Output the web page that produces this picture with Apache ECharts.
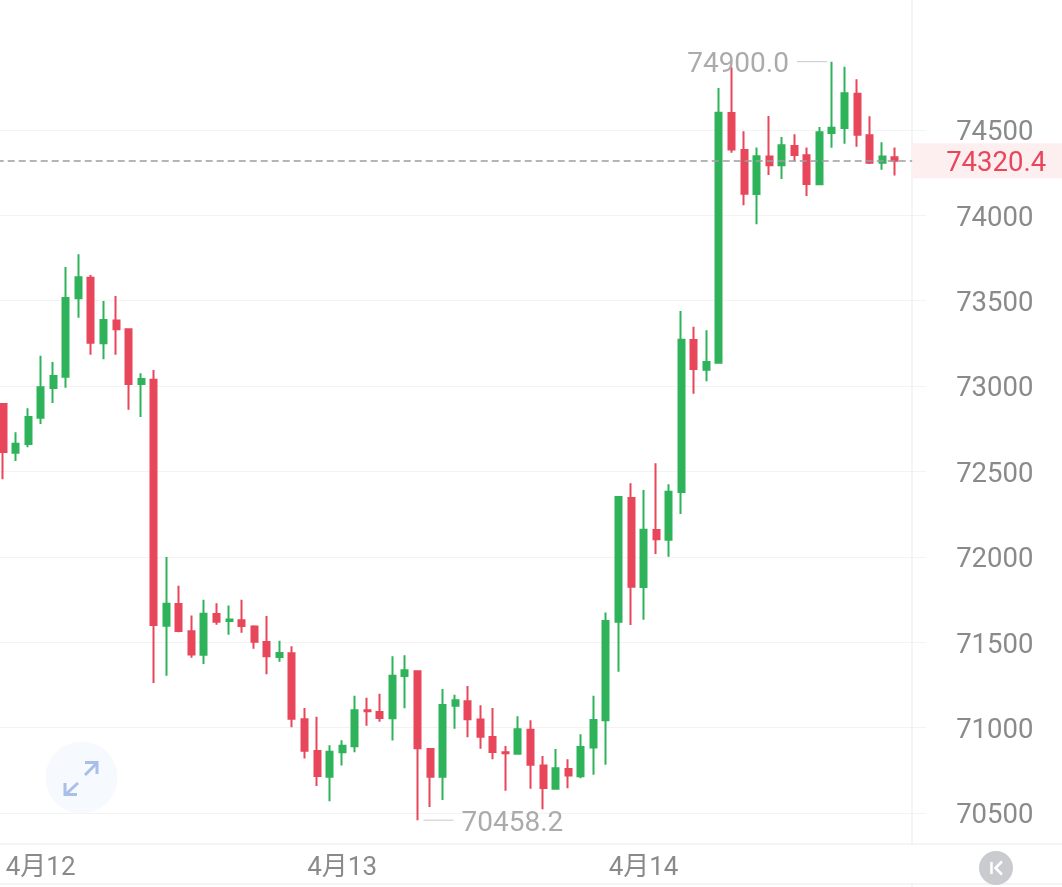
<!DOCTYPE html>
<html>
<head>
<meta charset="utf-8">
<style>
    html, body { margin: 0; padding: 0; background: #fff; }
    #chart { width: 1062px; height: 887px; }
</style>
</head>
<body>
<div id="chart"></div>
<script src="https://cdn.jsdelivr.net/npm/echarts@6/dist/echarts.min.js"></script>
<script>
    const opens = [72895, 72610, 72661, 72815, 72989, 73055, 73514, 73635, 73251, 73385, 73333, 73012, 73038, 71597, 71724, 71564, 71427, 71665, 71624, 71629, 71593, 71501, 71414, 71435, 71049, 70863, 70713, 70856, 70891, 71102, 71092, 71055, 71302, 71330, 70875, 70713, 71128, 71154, 71047, 70945, 70856, 70847, 70988, 70779, 70642, 70758, 70715, 70883, 71043, 71620, 72345, 71824, 72157, 72101, 72380, 73270, 73096, 73137, 74599, 74383, 74125, 74344, 74293, 74406, 74352, 74182, 74482, 74511, 74712, 74469, 74308, 74340];
    const closes = [72614, 72663, 72819, 72993, 73059, 73516, 73637, 73254, 73387, 73333, 73012, 73042, 71601, 71726, 71566, 71429, 71667, 71620, 71634, 71595, 71503, 71418, 71437, 71052, 70865, 70717, 70859, 70894, 71102, 71096, 71056, 71304, 71336, 70879, 70713, 71133, 71160, 71049, 70947, 70857, 70850, 70990, 70783, 70647, 70762, 70719, 70887, 71045, 71624, 72351, 71825, 72159, 72103, 72382, 73272, 73100, 73141, 74601, 74385, 74127, 74346, 74293, 74410, 74353, 74184, 74486, 74513, 74715, 74472, 74308, 74344, 74320.4];
    const lows = [72454, 72562, 72642, 72778, 72901, 72991, 73401, 73184, 73157, 73184, 72862, 72819, 71261, 71304, 71558, 71410, 71373, 71603, 71544, 71556, 71462, 71312, 71386, 71002, 70820, 70658, 70569, 70779, 70856, 71011, 71035, 70924, 71113, 70458.2, 70535, 70576, 70994, 70943, 70877, 70815, 70631, 70847, 70642, 70522, 70637, 70645, 70703, 70724, 70783, 71328, 71601, 71632, 72017, 72001, 72251, 72956, 73028, 73132, 74367, 74059, 73948, 74236, 74213, 74316, 74113, 74182, 74396, 74420, 74402, 74301, 74267, 74234];
    const highs = [72895, 72730, 72870, 73178, 73141, 73698, 73772, 73651, 73498, 73528, 73335, 73075, 73094, 71999, 71831, 71656, 71749, 71728, 71716, 71749, 71599, 71654, 71509, 71476, 71115, 71064, 70897, 70926, 71187, 71175, 71199, 71418, 71424, 71332, 70881, 71226, 71193, 71244, 71131, 71115, 70892, 71066, 71043, 70834, 70875, 70815, 70961, 71187, 71675, 72356, 72431, 72392, 72548, 72425, 73440, 73348, 73327, 74746, 74867, 74492, 74398, 74582, 74459, 74475, 74398, 74518, 74900, 74870, 74797, 74580, 74428, 74398];

    const tickLabels = ['4月12', '4月13', '4月14'];
    const tickIndexes = [3, 27, 51];
    const lastPrice = 74320.4;
    const maxHigh = 74900.0;
    const minLow = 70458.2;

    // 两根空白K线, 让网格线延伸到右侧竖线之外
    const slotCount = opens.length + 2;
    const categories = [];
    for (let i = 0; i < slotCount; i++) {
        const t = tickIndexes.indexOf(i);
        categories.push(t >= 0 ? tickLabels[t] : '');
    }

    const candleData = opens.map((o, i) => [o, closes[i], lows[i], highs[i]]);

    const upColor = '#2eb35a';
    const downColor = '#e8465a';
    const font = 'Roboto, "Noto Sans CJK SC", sans-serif';
    const edgeColor = '#f1f1f1';
    const iconBlue = '#a9bee8';

    function extremeRich() {
        return {
            t: { fontFamily: font, fontSize: 28, color: '#ababab', padding: [7, 0, 0, 0] },
            g: { width: 8 },
            l: { width: 30, height: 1, backgroundColor: '#c8c8c8' }
        };
    }

    let myChart = echarts.init(document.getElementById('chart'), null, { renderer: 'canvas' });
    myChart.setOption({
        animation: false,
        backgroundColor: '#fff',
        // 70000 落在画布外, 只为保留最低价标记
        grid: { left: -3.28, width: 929.44, top: 44.6, height: 853.8, outerBoundsMode: 'none' },
        xAxis: {
            type: 'category',
            data: categories,
            offset: -54.4,
            axisLine: { show: false },
            axisTick: { show: false },
            splitLine: { show: false },
            axisLabel: { interval: 0, margin: 11, fontFamily: font, fontSize: 26, color: '#8a8a8a' }
        },
        yAxis: {
            type: 'value',
            position: 'right',
            min: 70000,
            max: 75000,
            interval: 500,
            axisLine: { show: false },
            axisTick: { show: false },
            splitLine: { showMaxLine: false, lineStyle: { color: '#f3f3f3', width: 1 } },
            axisLabel: {
                showMaxLabel: false,
                showMinLabel: false,
                margin: 30,
                formatter: (v) => '{a|' + v + '}',
                rich: {
                    a: { fontFamily: font, fontSize: 27.5, color: '#8a8a8a', padding: [7, 0, 0, 0] }
                }
            }
        },
        series: [
            {
                type: 'candlestick',
                barWidth: 6.5,
                data: candleData,
                itemStyle: {
                    color: upColor,
                    color0: downColor,
                    borderColor: upColor,
                    borderColor0: downColor,
                    borderWidth: 2
                },
                markLine: {
                    silent: true,
                    symbol: 'none',
                    data: [{ yAxis: lastPrice }],
                    lineStyle: { color: '#9d9d9d', type: [7, 4], width: 1.5 },
                    label: {
                        position: 'end',
                        distance: -14,
                        formatter: '{a|' + lastPrice.toFixed(1) + '}',
                        backgroundColor: '#fdeff0',
                        padding: [3.5, 17, 3.5, 34],
                        rich: {
                            a: { fontFamily: font, fontSize: 27.5, color: downColor, lineHeight: 28, padding: [7, 0, 0, 0] }
                        }
                    }
                },
                markPoint: {
                    silent: true,
                    symbol: 'circle',
                    symbolSize: 0,
                    data: [
                        {
                            coord: [66, maxHigh],
                            label: {
                                position: 'left',
                                distance: 5,
                                formatter: '{t|' + maxHigh.toFixed(1) + '}{g|}{l|}',
                                rich: extremeRich()
                            }
                        },
                        {
                            coord: [33, minLow],
                            label: {
                                position: 'right',
                                distance: 6,
                                formatter: '{l|}{g|}{t|' + minLow.toFixed(1) + '}',
                                rich: extremeRich()
                            }
                        }
                    ]
                }
            }
        ],
        graphic: [
            { type: 'line', z: 1, silent: true, shape: { x1: 912, y1: 0, x2: 912, y2: 844 }, style: { stroke: edgeColor, lineWidth: 1.5 } },
            { type: 'line', z: 1, silent: true, shape: { x1: 912, y1: 884, x2: 912, y2: 887 }, style: { stroke: edgeColor, lineWidth: 1.5 } },
            { type: 'line', z: 1, silent: true, shape: { x1: 0, y1: 844, x2: 1062, y2: 844 }, style: { stroke: edgeColor, lineWidth: 1.5 } },
            { type: 'line', z: 1, silent: true, shape: { x1: 0, y1: 884, x2: 1062, y2: 884 }, style: { stroke: edgeColor, lineWidth: 1.5 } },
            // 左下角展开按钮
            { type: 'circle', z: 10, silent: true, shape: { cx: 81.5, cy: 777.5, r: 36 }, style: { fill: '#f6f9fd' } },
            { type: 'polyline', z: 11, silent: true, shape: { points: [[85, 762.5], [97, 762.5], [97, 774]] }, style: { fill: null, stroke: iconBlue, lineWidth: 3 } },
            { type: 'line', z: 11, silent: true, shape: { x1: 85, y1: 775, x2: 96, y2: 764 }, style: { stroke: iconBlue, lineWidth: 3 } },
            { type: 'polyline', z: 11, silent: true, shape: { points: [[65, 783], [65, 794.5], [77, 794.5]] }, style: { fill: null, stroke: iconBlue, lineWidth: 3 } },
            { type: 'line', z: 11, silent: true, shape: { x1: 78, y1: 783, x2: 66, y2: 794 }, style: { stroke: iconBlue, lineWidth: 3 } },
            // 右下角K按钮
            { type: 'circle', z: 10, silent: true, shape: { cx: 996, cy: 868, r: 17 }, style: { fill: '#c9cbce' } },
            { type: 'line', z: 11, silent: true, shape: { x1: 991.5, y1: 862, x2: 991.5, y2: 874 }, style: { stroke: '#fff', lineWidth: 2.5 } },
            { type: 'polyline', z: 11, silent: true, shape: { points: [[1002, 861.5], [995.5, 868], [1002, 874.5]] }, style: { fill: null, stroke: '#fff', lineWidth: 2.5 } }
        ]
    });
</script>
</body>
</html>
